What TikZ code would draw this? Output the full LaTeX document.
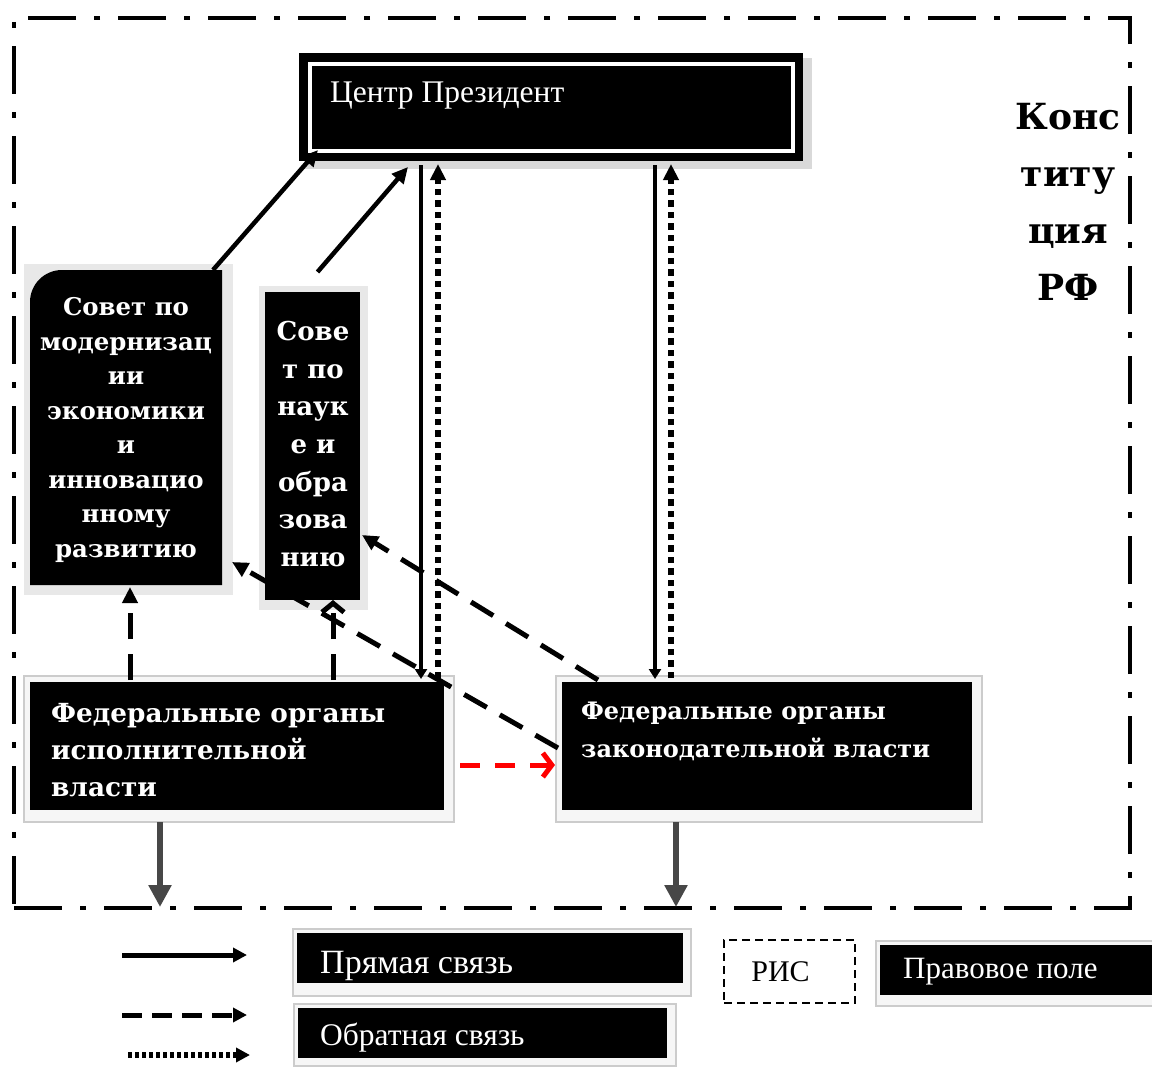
\documentclass[tikz,border=0pt]{standalone}
\usepackage{fontspec}
\setmainfont{Liberation Serif}
\newfontfamily\dvs{DejaVu Serif}
\usetikzlibrary{arrows.meta,calc}
\begin{document}
\begin{tikzpicture}[x=1pt,y=-1pt,
  box/.style={anchor=north west, inner sep=0pt, outer sep=0pt, rectangle},
  shadebox/.style={fill=gray!7, draw=gray!40, line width=1.2pt},
  blk/.style={box, fill=black},
  wtxt/.style={text=white, inner sep=0pt},
  tipF/.style={-{Triangle[length=16pt,width=15pt]}},
  solidarr/.style={line width=4.5pt, tipF},
  dasharr/.style={line width=5pt, dash pattern=on 26pt off 15pt, tipF},
  dotarr/.style={line width=6.5pt, dash pattern=on 6.5pt off 5pt, -{Triangle[length=16pt,width=15pt]}},
  chevarr/.style={line width=5pt, dash pattern=on 26pt off 15pt, -{Straight Barb[length=9pt,width=22pt,line width=5pt]}},
  grayarr/.style={line width=6pt, draw=black!72, -{Triangle[length=22pt,width=22pt,fill=black!72]}},
]
\useasboundingbox (0,0) rectangle (1152,1068);
\fill[white] (0,0) rectangle (1152,1068);

% outer frame (Constitution)
\node[box, draw=black, line width=4.5pt, dash pattern=on 48pt off 18pt on 6pt off 18pt,
      minimum width=1116pt, minimum height=890pt] (frame) at (14,18) {};

% ---------- shadows ----------
\fill[gray!30] (304,58) rectangle (812,169);
\fill[gray!18] (24,264) rectangle (233,595);
\fill[gray!18] (259,286) rectangle (368,610);
\draw[shadebox] (24,676) rectangle (454,822);
\draw[shadebox] (556,676) rectangle (982,822);

% ---------- nodes (boxes) ----------
\node[blk, minimum width=504pt, minimum height=108pt] (pres) at (299,53) {};
\draw[white, line width=4pt] (310,64) rectangle (793,151);
\node[wtxt, anchor=west, font=\fontsize{31.5}{36}\selectfont] (prest) at (330,96) {Центр Президент};

\fill[black] (30,585) [rounded corners=32pt] -- (30,270) [sharp corners] -- (222,270) -- (222,585) -- cycle;
\node[box, minimum width=192pt, minimum height=315pt] (smod) at (30,270) {};
\node[wtxt, align=center, font=\dvs\bfseries\fontsize{24.4}{34.5}\selectfont] (smodt) at (126,430)
  {Совет по\\модернизац\\ии\\экономики\\и\\инновацио\\нному\\развитию};

\node[blk, minimum width=95pt, minimum height=308pt] (snau) at (265,292) {};

\node[blk, minimum width=414pt, minimum height=128pt] (fisp) at (30,682) {};
\node[blk, minimum width=410pt, minimum height=128pt] (fzak) at (562,682) {};

% ---------- connectors ----------
\draw[dasharr] ($(fzak.west)+(-4,2)$) -- ($(smod.south east)+(10,-23)$);
\draw[dasharr] ($(fzak.north west)+(36,-2)$) -- ($(snau.north east)+(2,243)$);
\draw[dasharr] ($(fisp.north west)+(100,-2)$) -- ($(smod.south west)+(100,2)$);
\draw[chevarr] ($(fisp.north west)+(303,-2)$) -- ($(snau.south west)+(68,0)$);

\draw[solidarr] ($(smod.north east)+(-9,0)$) -- ($(pres.south west)+(19,-11)$);
\draw[solidarr] ($(snau.north)+(5,-20)$) -- ($(pres.south west)+(109,6)$);

\draw[line width=4.5pt, -{Triangle[length=10pt,width=12pt]}] ($(pres.south west)+(122,4)$) -- ($(fisp.north east)+(-23,-3)$);
\draw[dotarr] ($(fisp.north east)+(-6,-4)$) -- ($(pres.south west)+(139,3)$);
\draw[line width=4.5pt, -{Triangle[length=10pt,width=12pt]}] ($(pres.south west)+(356,4)$) -- ($(fzak.north west)+(93,-3)$);
\draw[dotarr] ($(fzak.north west)+(109,-4)$) -- ($(pres.south west)+(372,3)$);

\draw[red, line width=5pt, dash pattern=on 20pt off 15pt, -{Straight Barb[length=9pt,width=24pt,line width=5pt]}]
  ($(fisp.east)+(16,19)$) -- ($(fzak.west)+(-7,19)$);

\coordinate (e1) at (160,907);
\coordinate (e2) at (676,907);
\draw[grayarr] ($(fisp.south west)+(130,12)$) -- (e1);
\draw[grayarr] ($(fzak.south west)+(114,12)$) -- (e2);

% redraw text boxes on top
\node[blk, minimum width=95pt, minimum height=308pt] (snau2) at (265,292) {};
\node[wtxt, align=center, font=\dvs\bfseries\fontsize{26}{37.7}\selectfont] (snaut) at (313,444)
  {Сове\\т по\\наук\\е и\\обра\\зова\\нию};
\node[wtxt, align=left, anchor=west, font=\dvs\bfseries\fontsize{26.3}{37}\selectfont] (fispt) at (51,750)
  {Федеральные органы\\исполнительной\\власти};
\node[wtxt, align=left, anchor=west, font=\dvs\bfseries\fontsize{24}{38}\selectfont] (fzakt) at (581,731)
  {Федеральные органы\\законодательной власти};

% Constitution label
\node[align=center, inner sep=0pt, font=\dvs\bfseries\fontsize{36}{57}\selectfont] (konst) at (1068,202)
  {Конс\\титу\\ция\\РФ};

% ---------- legend ----------
\coordinate (l1a) at (122,955); \coordinate (l1b) at (247,955);
\coordinate (l2a) at (122,1015); \coordinate (l2b) at (247,1015);
\coordinate (l3a) at (128,1055); \coordinate (l3b) at (250,1055);
\draw[line width=5pt, -{Triangle[length=14pt,width=14pt]}] (l1a) -- (l1b);
\draw[line width=5pt, dash pattern=on 20pt off 10pt, -{Triangle[length=14pt,width=14pt]}] (l2a) -- (l2b);
\draw[line width=6pt, dash pattern=on 4pt off 3pt, -{Triangle[length=14pt,width=14pt]}] (l3a) -- (l3b);

\draw[shadebox] (293,929) rectangle (691,996);
\node[blk, minimum width=386pt, minimum height=50pt] (lg1) at (297,933) {};
\node[wtxt, anchor=west, font=\fontsize{34}{36}\selectfont] (lg1t) at (320,966) {Прямая связь};

\draw[shadebox] (294,1004) rectangle (676,1066);
\node[blk, minimum width=369pt, minimum height=50pt] (lg2) at (298,1008) {};
\node[wtxt, anchor=west, font=\fontsize{31.5}{34}\selectfont] (lg2t) at (320,1038) {Обратная связь};

\node[box, draw=black, line width=2.5pt, dash pattern=on 8pt off 5pt, minimum width=131pt, minimum height=63pt] (ris) at (724,940) {};
\node[inner sep=0pt, font=\fontsize{30}{34}\selectfont] (rist) at ($(ris.center)+(-9,0)$) {РИС};

\draw[shadebox] (876,941) rectangle (1160,1006);
\node[blk, minimum width=272pt, minimum height=50pt] (lg3) at (880,945) {};
\node[wtxt, anchor=west, font=\fontsize{31}{34}\selectfont] (lg3t) at (903,972) {Правовое поле};
\end{tikzpicture}
\end{document}
